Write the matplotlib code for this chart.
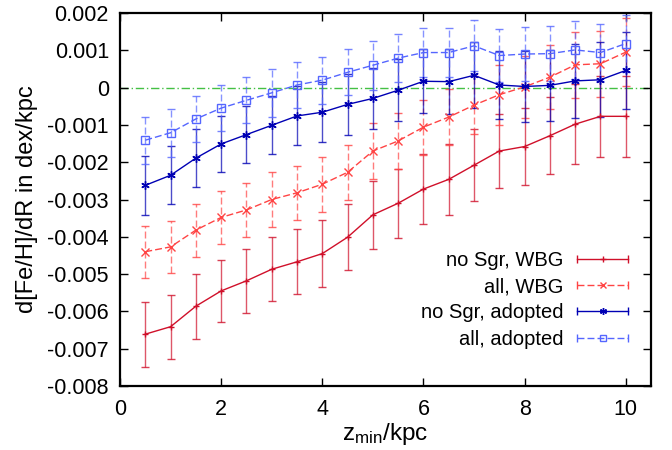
import matplotlib
matplotlib.use("Agg")
import matplotlib.pyplot as plt
from matplotlib.lines import Line2D
from matplotlib.legend_handler import HandlerLine2D
import numpy as np

plt.rcParams['font.family'] = ['Liberation Sans', 'DejaVu Sans']
plt.rcParams['mathtext.fontset'] = 'custom'
plt.rcParams['mathtext.rm'] = 'Liberation Sans'
plt.rcParams['mathtext.it'] = 'Liberation Sans:italic'
plt.rcParams['axes.unicode_minus'] = False

zmin = [0.5, 1.0, 1.5, 2.0, 2.5, 3.0, 3.5, 4.0, 4.5, 5.0,
        5.5, 6.0, 6.5, 7.0, 7.5, 8.0, 8.5, 9.0, 9.5, 10.0]

nosgr_wbg = [-6.61, -6.41, -5.86, -5.45, -5.18, -4.87, -4.67, -4.45, -4.01, -3.41,
             -3.10, -2.72, -2.46, -2.08, -1.70, -1.58, -1.29, -0.98, -0.77, -0.77]
nosgr_wbg_err = [0.87, 0.86, 0.87, 0.84, 0.85, 0.86, 0.87, 0.90, 0.88, 0.91,
                 0.92, 0.94, 0.96, 0.97, 1.00, 1.03, 1.03, 1.08, 1.08, 1.08]

all_wbg = [-4.40, -4.27, -3.82, -3.48, -3.28, -3.00, -2.82, -2.59, -2.27, -1.70,
           -1.43, -1.06, -0.79, -0.47, -0.19, 0.02, 0.28, 0.61, 0.64, 0.95]
all_wbg_err = [0.70, 0.70, 0.71, 0.72, 0.72, 0.73, 0.73, 0.74, 0.74, 0.75,
               0.75, 0.74, 0.74, 0.77, 0.80, 0.83, 0.85, 0.88, 0.89, 0.91]

nosgr_adopt = [-2.62, -2.35, -1.89, -1.51, -1.26, -1.01, -0.76, -0.66, -0.45, -0.29,
               -0.07, 0.17, 0.16, 0.33, 0.07, 0.03, 0.06, 0.18, 0.21, 0.46]
nosgr_adopt_err = [0.79, 0.78, 0.77, 0.76, 0.77, 0.78, 0.79, 0.80, 0.81, 0.82,
                   0.83, 0.86, 0.87, 0.89, 0.92, 0.94, 0.96, 1.00, 1.01, 1.03]

all_adopt = [-1.41, -1.21, -0.84, -0.55, -0.34, -0.14, 0.07, 0.20, 0.41, 0.60,
             0.79, 0.94, 0.94, 1.12, 0.86, 0.90, 0.91, 1.01, 0.94, 1.18]
all_adopt_err = [0.63, 0.64, 0.62, 0.62, 0.62, 0.64, 0.62, 0.63, 0.62, 0.66,
                 0.65, 0.66, 0.66, 0.68, 0.70, 0.73, 0.73, 0.77, 0.77, 0.77]

labels = ["no Sgr, WBG", "all, WBG", "no Sgr, adopted", "all, adopted"]
colors = ["#d0102a", "#ff4444", "#0000b4", "#5566ff"]
styles = ["-", "--", "-", "--"]
markers = ["+", "x", (6, 2, 0), "s"]
msizes = [5, 6, 6, 6]

scale = 1e-3
series = [(nosgr_wbg, nosgr_wbg_err), (all_wbg, all_wbg_err),
          (nosgr_adopt, nosgr_adopt_err), (all_adopt, all_adopt_err)]

fig = plt.figure(figsize=(6.72, 4.5), dpi=100)
ax = fig.add_axes([0.1786, 0.1422, 0.9688 - 0.1786, 0.9711 - 0.1422])

ax.axhline(0, color="#44c044", lw=1.0, ls=(0, (6, 2, 1, 2)), zorder=1)

dash = (0, (5, 2.2))
handles = []
hmap = {}
for (vals, errs), lab, c, ls, mk, ms in zip(series, labels, colors, styles, markers, msizes):
    y = np.array(vals) * scale
    e = np.array(errs) * scale
    linestyle = dash if ls == "--" else "-"
    eb = ax.errorbar(zmin, y, yerr=e, color=c, lw=1.0, elinewidth=1.0, capsize=3,
                     capthick=1.0, marker=mk, ms=ms, mfc='none' if mk == "s" else c,
                     mec=c, mew=1.0, ls=linestyle, zorder=3)
    eb[2][0].set_linestyle(linestyle)
    eb[2][0].set_alpha(0.7)
    for cap in eb[1]:
        cap.set_alpha(0.8)
    main = Line2D([], [], color=c, lw=1.0, ls=linestyle, marker=mk, ms=ms - 1,
                  mfc='none' if mk == "s" else c, mec=c, mew=1.0)
    caps = Line2D([], [], color=c, lw=0, marker="|", ms=6, mew=1.0)
    hmap[caps] = HandlerLine2D(numpoints=2, marker_pad=0)
    handles.append((caps, main))

ax.set_xlim(0, 10.5)
ax.set_ylim(-0.008, 0.002)
ax.set_xticks([0, 2, 4, 6, 8, 10])
yt = [-0.008, -0.007, -0.006, -0.005, -0.004, -0.003, -0.002, -0.001, 0, 0.001, 0.002]
ax.set_yticks(yt)
ax.set_yticklabels(["%g" % v for v in yt])
ax.tick_params(direction="in", top=True, right=True, length=6, width=1.0,
               labelsize=15.5)
ax.tick_params(axis="x", pad=9)
ax.tick_params(axis="y", pad=8)
for s in ax.spines.values():
    s.set_linewidth(1.6)

ax.set_xlabel(r"z$_{\mathrm{min}}$/kpc", fontsize=17.5, labelpad=1)
ax.set_ylabel("d[Fe/H]/dR in dex/kpc", fontsize=17, labelpad=7)

leg = ax.legend(handles, labels, handler_map=hmap, loc="lower right",
                bbox_to_anchor=(0.957, 0.10), frameon=False, markerfirst=False,
                fontsize=14.5, handlelength=2.55, handletextpad=0.65,
                labelspacing=0.36, borderaxespad=0, borderpad=0)

fig.savefig("out.png", dpi=100)
